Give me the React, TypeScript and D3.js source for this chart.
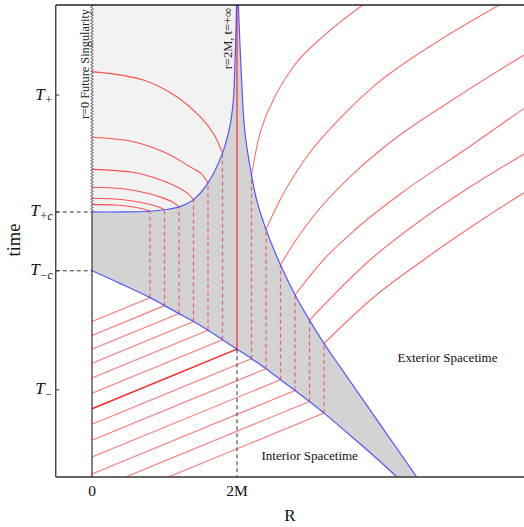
import React from "react";
import * as d3 from "d3";

const WIDTH = 524;
const HEIGHT = 527;

// ---- axes -------------------------------------------------------------
const R_DOMAIN: [number, number] = [-0.5, 6];
const T_DOMAIN: [number, number] = [-1.2, 5.3];
const R_TICKS = [0, 2];
const R_TICK_LABELS = ["0", "2M"];
const TIME_TICKS = [4.06, 2.45, 1.64, 0];
const TIME_TICK_SUBS = ["+", "+c", "\u2212c", "\u2212"];
const T_PLUS_C = 2.45;
const T_MINUS_C = 1.64;

// ---- dust shells (radius in units of M) -------------------------------
const SHELL_R = [0.8, 1.0, 1.2, 1.4, 1.6, 1.8, 2.0, 2.2, 2.4, 2.6, 2.8, 3.0, 3.2];
// time at which each shell enters / leaves the matching region
const SHELL_T_ENTER = [1.27, 1.16, 1.05, 0.94, 0.82, 0.69, 0.56, 0.43, 0.29, 0.14, -0.01, -0.16, -0.32];
const SHELL_T_EXIT = [2.46, 2.48, 2.52, 2.62, 2.85, 3.26, null, 2.96, 2.21, 1.72, 1.31, 0.96, 0.64];
const HORIZON_R = 2;
// slope dt/dR of the interior slices
const INTERIOR_SLOPE = 0.41;

// ---- boundaries of the matching region ---------------------------------
const LOWER_BOUNDARY: [number, number][] = [
  [0, 1.64], [0.4, 1.46], [0.8, 1.27], [1.0, 1.16], [1.2, 1.05], [1.4, 0.94], [1.6, 0.82],
  [1.8, 0.69], [2.0, 0.56], [2.2, 0.43], [2.4, 0.29], [2.6, 0.14], [2.8, -0.01], [3.0, -0.16],
  [3.2, -0.32], [3.6, -0.66], [4.0, -1.01], [4.3, -1.29],
];
const UPPER_BOUNDARY: [number, number][] = [
  [0, 2.45], [0.4, 2.45], [0.8, 2.46], [1.0, 2.48], [1.2, 2.52], [1.4, 2.62], [1.6, 2.85],
  [1.8, 3.26], [1.9, 3.62], [1.95, 3.99], [1.97, 4.45], [1.986, 4.96], [1.995, 5.4],
];
const OUTER_BOUNDARY: [number, number][] = [
  [2.016, 5.4], [2.055, 4.45], [2.11, 3.54], [2.2, 2.96], [2.27, 2.62], [2.4, 2.21], [2.6, 1.72],
  [2.8, 1.31], [3.0, 0.96], [3.2, 0.64], [3.42, 0.32], [4.5, -1.23],
];

// ---- slices inside the future region (one per shell with R < 2M) -------
const FUTURE_SLICES: [number, number][][] = [
  [[0, 2.555], [0.32, 2.545], [0.52, 2.524], [0.664, 2.5], [0.744, 2.481], [0.8, 2.46]],
  [[0, 2.638], [0.4, 2.622], [0.65, 2.586], [0.83, 2.546], [0.93, 2.514], [1.0, 2.48]],
  [[0, 2.79], [0.48, 2.763], [0.78, 2.704], [0.996, 2.637], [1.116, 2.584], [1.2, 2.52]],
  [[0, 3.037], [0.56, 2.996], [0.91, 2.905], [1.162, 2.802], [1.302, 2.719], [1.4, 2.62]],
  [[0, 3.478], [0.57, 3.417], [1.03, 3.258], [1.352, 3.073], [1.5, 2.985], [1.6, 2.85]],
  [[0, 4.382], [0.708, 4.267], [1.168, 4.037], [1.49, 3.762], [1.673, 3.533], [1.8, 3.26]],
];

// ---- exterior slices (one per shell with R > 2M) -----------------------
const EXTERIOR_SLICES: [number, number][][] = [
  [[2.2, 2.96], [2.294, 3.441], [2.501, 3.992], [2.777, 4.45], [3.237, 4.91], [3.734, 5.3]],
  [[2.4, 2.21], [2.593, 2.615], [2.961, 3.211], [3.421, 3.74], [3.88, 4.175], [4.8, 4.818], [5.618, 5.3]],
  [[2.6, 1.72], [2.786, 2.022], [3.159, 2.518], [3.614, 2.986], [4.083, 3.386], [4.993, 4.006], [5.96, 4.611]],
  [[2.8, 1.31], [3.19, 1.788], [3.641, 2.215], [4.29, 2.725], [5.2, 3.345], [5.96, 3.877]],
  [[3.0, 0.96], [3.834, 1.788], [4.483, 2.298], [5.214, 2.794], [5.96, 3.248]],
  [[3.2, 0.64], [3.89, 1.279], [4.57, 1.788], [5.269, 2.27], [5.96, 2.715]],
];

const SERIF = "'Liberation Serif', 'Times New Roman', serif";
const RED = "#ff1a1a";
const BLUE = "#3b3bff";

export default function App() {
  const x = d3.scaleLinear().domain(R_DOMAIN).range([55.75, 527]);
  const y = d3.scaleLinear().domain(T_DOMAIN).range([477, 5]);

  const left = x(R_DOMAIN[0]);
  const top = y(T_DOMAIN[1]);
  const bottom = y(T_DOMAIN[0]);
  const right = WIDTH;

  const smooth = d3
    .line<[number, number]>()
    .x((d) => x(d[0]))
    .y((d) => y(d[1]))
    .curve(d3.curveCatmullRom.alpha(0.5));
  const monotone = d3
    .line<[number, number]>()
    .x((d) => x(d[0]))
    .y((d) => y(d[1]))
    .curve(d3.curveMonotoneX);
  const straight = d3
    .line<[number, number]>()
    .x((d) => x(d[0]))
    .y((d) => y(d[1]));

  const join = (...parts: string[]) =>
    parts.map((p, i) => (i === 0 ? p : p.replace(/^M/, "L"))).join("");

  const upperPath = smooth(UPPER_BOUNDARY) as string;
  const outerPath = smooth(OUTER_BOUNDARY) as string;
  const lowerPath = smooth(LOWER_BOUNDARY) as string;
  const lowerReversed = smooth([...LOWER_BOUNDARY].reverse()) as string;

  const matchRegion = join(upperPath, outerPath, lowerReversed) + "Z";
  const lastUpper = UPPER_BOUNDARY[UPPER_BOUNDARY.length - 1];
  const futureRegion = upperPath + `L${x(0)},${y(lastUpper[1])}Z`;

  // wavy marker for the r = 0 singularity
  const wave: string[] = [];
  {
    const x0 = x(0);
    let k = 0;
    for (let py = y(T_PLUS_C); py >= top - 2; py -= 1.6, k++) {
      wave.push(`${k === 0 ? "M" : "L"}${x0 + (k % 2 === 0 ? -1.3 : 1.3)},${py}`);
    }
  }

  const shells = SHELL_R.map((r, i) => ({
    r,
    tIn: SHELL_T_ENTER[i],
    tOut: SHELL_T_EXIT[i],
  }));

  return (
    <svg
      width={WIDTH}
      height={HEIGHT}
      style={{ position: "absolute", left: 0, top: 0, background: "#fff" }}
      fontFamily={SERIF}
    >
      <defs>
        <clipPath id="plot-area">
          <rect x={left} y={top} width={right - left} height={bottom - top} />
        </clipPath>
      </defs>

      <g clipPath="url(#plot-area)">
        <path d={futureRegion} fill="#f2f2f2" />
        <path d={matchRegion} fill="#d3d3d3" />

        {/* interior slices below the lower boundary */}
        {shells.map((s) => {
          const t0 = s.tIn - INTERIOR_SLOPE * s.r;
          const isHorizon = s.r === HORIZON_R;
          return (
            <path
              key={`in-${s.r}`}
              d={straight([[0, t0], [s.r, s.tIn]]) as string}
              fill="none"
              stroke={RED}
              strokeOpacity={isHorizon ? 0.95 : 0.6}
              strokeWidth={isHorizon ? 1.4 : 1.1}
            />
          );
        })}

        {FUTURE_SLICES.map((pts, i) => (
          <path
            key={`fut-${i}`}
            d={smooth(pts) as string}
            fill="none"
            stroke={RED}
            strokeOpacity={0.75}
            strokeWidth={1.1}
          />
        ))}

        {EXTERIOR_SLICES.map((pts, i) => (
          <path
            key={`ext-${i}`}
            d={monotone(pts) as string}
            fill="none"
            stroke={RED}
            strokeOpacity={0.65}
            strokeWidth={1.1}
          />
        ))}

        {/* shells held at constant radius inside the matching region */}
        {shells.map((s) =>
          s.tOut === null ? (
            <line
              key={`sh-${s.r}`}
              x1={x(s.r)}
              x2={x(s.r)}
              y1={y(s.tIn)}
              y2={top}
              stroke={RED}
              strokeOpacity={0.9}
              strokeWidth={1.2}
            />
          ) : (
            <line
              key={`sh-${s.r}`}
              x1={x(s.r)}
              x2={x(s.r)}
              y1={y(s.tIn)}
              y2={y(s.tOut)}
              stroke={RED}
              strokeOpacity={0.6}
              strokeWidth={1.2}
              strokeDasharray="4,3"
            />
          )
        )}

        <path d={upperPath} fill="none" stroke={BLUE} strokeOpacity={0.85} strokeWidth={1.2} />
        <path d={outerPath} fill="none" stroke={BLUE} strokeOpacity={0.85} strokeWidth={1.2} />
        <path d={lowerPath} fill="none" stroke={BLUE} strokeOpacity={0.85} strokeWidth={1.2} />

        <path d={wave.join("")} fill="none" stroke="#555" strokeWidth={0.9} />
        <line x1={x(0)} x2={x(0)} y1={y(T_PLUS_C)} y2={bottom} stroke="#333" strokeWidth={1.2} />

        {/* reference lines */}
        {[T_PLUS_C, T_MINUS_C].map((t) => (
          <line
            key={`h-${t}`}
            x1={left}
            x2={x(0)}
            y1={y(t)}
            y2={y(t)}
            stroke="#333"
            strokeWidth={1}
            strokeDasharray="4,3"
          />
        ))}
        <line
          x1={x(HORIZON_R)}
          x2={x(HORIZON_R)}
          y1={y(SHELL_T_ENTER[SHELL_R.indexOf(HORIZON_R)])}
          y2={bottom}
          stroke="#333"
          strokeWidth={1}
          strokeDasharray="4,3"
        />
      </g>

      {/* frame */}
      <line x1={left} x2={left} y1={top} y2={bottom} stroke="#333" strokeWidth={1.3} />
      <line x1={left} x2={right} y1={top} y2={top} stroke="#222" strokeWidth={1.3} />
      <line x1={left} x2={right} y1={bottom} y2={bottom} stroke="#333" strokeWidth={1.3} />

      {/* time ticks */}
      {TIME_TICKS.map((t, i) => (
        <g key={`tt-${i}`}>
          <line x1={left} x2={left + 3.5} y1={y(t)} y2={y(t)} stroke="#333" strokeWidth={1} />
          <text x={52.5} y={y(t) + 4.5} textAnchor="end" fontSize={17} fill="#111">
            <tspan fontStyle="italic">T</tspan>
            <tspan fontSize={11.5} dy={4} fontStyle="italic">
              {TIME_TICK_SUBS[i]}
            </tspan>
          </text>
        </g>
      ))}

      {/* radius ticks */}
      {R_TICKS.map((r, i) => (
        <text key={`rt-${i}`} x={x(r)} y={495.5} textAnchor="middle" fontSize={15.5} fill="#111">
          {R_TICK_LABELS[i]}
        </text>
      ))}

      <text x={290} y={520.5} textAnchor="middle" fontSize={17} fill="#111">
        R
      </text>
      <text
        transform={`translate(20,240) rotate(-90)`}
        textAnchor="middle"
        fontSize={18.5}
        fill="#111"
      >
        time
      </text>

      <text
        transform={`translate(88.5,9) rotate(-90)`}
        textAnchor="end"
        fontSize={12.3}
        fill="#222"
      >
        r=0 Future Singularity
      </text>
      <text
        transform={`translate(231.5,8) rotate(-90)`}
        textAnchor="end"
        fontSize={12.5}
        fill="#222"
      >
        r=2M, t=+∞
      </text>

      <text x={397.5} y={361.5} fontSize={13} fill="#111">
        Exterior Spacetime
      </text>
      <text x={261.5} y={459.5} fontSize={13} fill="#111">
        Interior Spacetime
      </text>
    </svg>
  );
}
